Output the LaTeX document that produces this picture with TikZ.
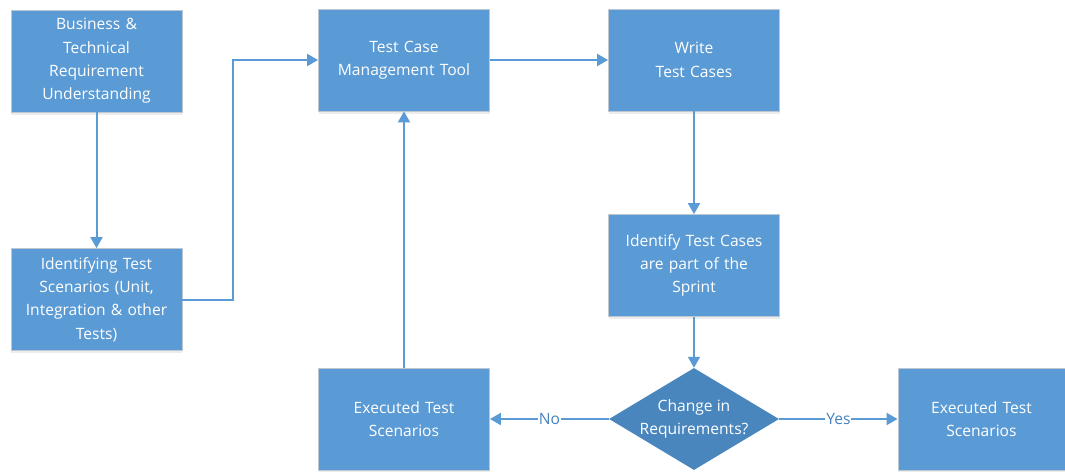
\documentclass[tikz,border=0pt]{standalone}
\usepackage{fontspec}
\setmainfont{Open Sans}
\usetikzlibrary{shapes.geometric,arrows.meta,shadows}

\definecolor{boxblue}{RGB}{91,155,213}
\definecolor{boxedge}{RGB}{190,200,210}
\definecolor{decblue}{RGB}{74,134,190}
\definecolor{linkblue}{RGB}{91,155,213}
\definecolor{lblblue}{RGB}{70,130,190}

\tikzset{
  every node/.style={font=\fontsize{15.6}{23.3}\selectfont},
  stepbox/.style={rectangle, fill=boxblue, draw=boxedge, line width=0.8pt,
    minimum width=171pt, minimum height=102pt, text width=166pt, align=center,
    text=white, inner sep=0pt,
    drop shadow={opacity=0.15, shadow xshift=0pt, shadow yshift=-2.5pt}},
  decision/.style={diamond, fill=decblue, draw=none, inner sep=0pt,
    minimum width=170pt, minimum height=102pt},
  dectext/.style={text=white, align=center, inner sep=0pt},
  conn/.style={draw=linkblue, line width=2pt,
    -{Triangle[length=11pt,width=12pt]}},
  lbl/.style={fill=white, text=lblblue, inner sep=1pt}
}

\begin{document}
\begin{tikzpicture}[x=1pt,y=-1pt]
\useasboundingbox (0,0) rectangle (1065,471);

% process steps
\node[stepbox] (b1) at (96.5,61) {Business \&\\Technical\\Requirement\\Understanding};
\node[stepbox] (b2) at (96.5,299.5) {Identifying Test\\Scenarios (Unit,\\Integration \& other\\Tests)};
\node[stepbox] (b3) at (404,60) {Test Case\\Management Tool};
\node[stepbox] (b4) at (694,60) {Write\\Test Cases};
\node[stepbox] (b5) at (694,265.5) {Identify Test Cases\\are part of the\\Sprint};
\node[stepbox] (b6) at (404,419) {Executed Test\\Scenarios};
\node[stepbox, minimum width=167pt] (b7) at (981.5,419) {Executed Test\\Scenarios};

% decision
\node[decision] (d) at (694,419) {};
\node[dectext] (dt) at (d.center) {Change in\\Requirements?};

% routing point for the elbow connector
\coordinate (j) at (233,0);

% connectors
\draw[conn] (b1.south -| b1) -- (b2);
\draw[conn] (b2.east) -- (b2.east -| j) |- (b3.west);
\draw[conn] (b3) -- (b4);
\draw[conn] (b4) -- (b5);
\draw[conn] (b5) -- (d.north);
\draw[conn] (d.west) -- node[lbl] {No} (b6.east);
\draw[conn] (d.east) -- node[lbl] {Yes} (b7.west);
\draw[conn] (b6) -- (b3);
\end{tikzpicture}
\end{document}
